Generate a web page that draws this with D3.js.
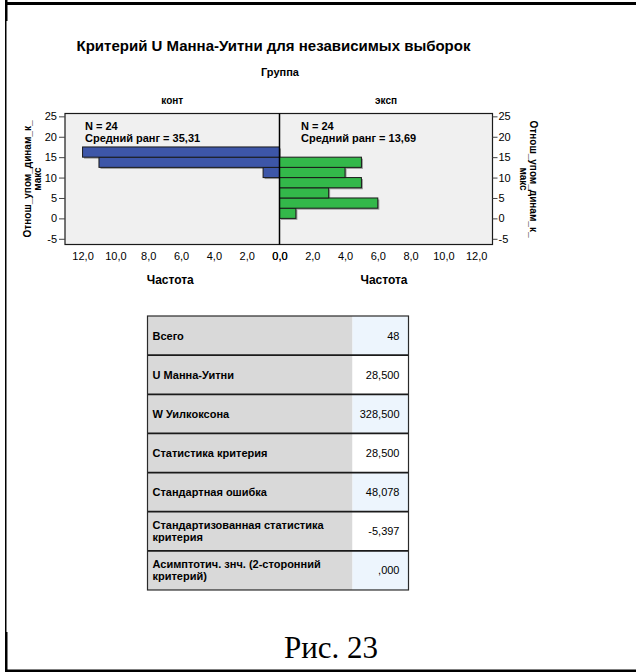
<!DOCTYPE html>
<html>
<head>
<meta charset="utf-8">
<script src="https://cdn.jsdelivr.net/npm/d3@7"></script>
<style>
  html, body { margin: 0; padding: 0; background: #fff; }
  svg { display: block; }
  text { font-family: "Liberation Sans", Arial, sans-serif; fill: #000; }
</style>
</head>
<body>
<svg id="fig" width="636" height="672"></svg>
<script>
// Binned values of the variable (bin lower edges, width 2.5)
const binStarts = [0, 2.5, 5, 7.5, 10, 12.5, 15];
const binWidth = 2.5;
// Frequencies per bin for each group
const groupNames = ["конт", "эксп"];
const freqKont = [0, 0, 0, 0, 1, 11, 12];
const freqExsp = [1, 6, 3, 5, 4, 5, 0];
const groupN = [24, 24];
const meanRanks = ["35,31", "13,69"];

// Axis ticks
const yTicks = [-5, 0, 5, 10, 15, 20, 25];
const xTicks = [0, 2, 4, 6, 8, 10, 12];

// Test summary table
const tableLabels = [
  ["Всего"],
  ["U Манна-Уитни"],
  ["W Уилкоксона"],
  ["Статистика критерия"],
  ["Стандартная ошибка"],
  ["Стандартизованная статистика", "критерия"],
  ["Асимптотич. знч. (2-сторонний", "критерий)"]
];
const tableValues = ["48", "28,500", "328,500", "28,500", "48,078", "-5,397", ",000"];

const svg = d3.select("#fig");

// ---- page frame ----
const frame = svg.append("g").attr("fill", "#000");
frame.append("rect").attr("x", 6).attr("y", 2).attr("width", 630).attr("height", 3);
frame.append("rect").attr("x", 5).attr("y", 0).attr("width", 1.5).attr("height", 672);
frame.append("rect").attr("x", 5).attr("y", 0).attr("width", 2.5).attr("height", 21);
frame.append("rect").attr("x", 5).attr("y", 632).attr("width", 2.5).attr("height", 40);
frame.append("rect").attr("x", 5).attr("y", 669.5).attr("width", 631).attr("height", 2.5);

// ---- titles ----
svg.append("text").attr("x", 273.5).attr("y", 51).attr("text-anchor", "middle")
  .attr("font-size", 15).attr("font-weight", "bold")
  .text("Критерий U Манна-Уитни для независимых выборок");
svg.append("text").attr("x", 280).attr("y", 76).attr("text-anchor", "middle")
  .attr("font-size", 11).attr("font-weight", "bold").text("Группа");

// ---- scales ----
const plotTop = 113.5, plotBottom = 244.5;
const xLeftEdge = 65, xZero = 279.5, xRightEdge = 492.5;
const y = d3.scaleLinear().domain([-6.4, 25.7]).range([plotBottom, plotTop]);
const xL = d3.scaleLinear().domain([0, 13.07]).range([xZero, xLeftEdge]);
const xR = d3.scaleLinear().domain([0, 13.0]).range([xZero, xRightEdge]);

// plot background
svg.append("rect").attr("x", xLeftEdge).attr("y", plotTop)
  .attr("width", xRightEdge - xLeftEdge).attr("height", plotBottom - plotTop)
  .attr("fill", "#f0f0f0");

// ---- bars ----
function drawBars(freqs, xs, color) {
  const data = binStarts.map((b, i) => ({ lo: b, f: freqs[i] })).filter(d => d.f > 0);
  const g = svg.append("g");
  const xPos = d => Math.min(xs(0), xs(d.f));
  const w = d => Math.abs(xs(d.f) - xs(0));
  // soft drop shadow
  g.selectAll("rect.sh").data(data).join("rect").attr("class", "sh")
    .attr("x", d => xPos(d) + 1.5).attr("y", d => y(d.lo + binWidth) + 1.5)
    .attr("width", w).attr("height", d => y(d.lo) - y(d.lo + binWidth))
    .attr("fill", "#9a9a9a");
  g.selectAll("rect.bar").data(data).join("rect").attr("class", "bar")
    .attr("x", xPos).attr("y", d => y(d.lo + binWidth))
    .attr("width", w).attr("height", d => y(d.lo) - y(d.lo + binWidth))
    .attr("fill", color).attr("stroke", "#1a1a1a").attr("stroke-width", 1);
}
drawBars(freqKont, xL, "#3d56a8");
drawBars(freqExsp, xR, "#33b84a");

// plot frame and zero line
svg.append("rect").attr("x", xLeftEdge).attr("y", plotTop)
  .attr("width", xRightEdge - xLeftEdge).attr("height", plotBottom - plotTop)
  .attr("fill", "none").attr("stroke", "#1a1a1a").attr("stroke-width", 1.2);
svg.append("line").attr("x1", xZero).attr("x2", xZero)
  .attr("y1", plotTop).attr("y2", plotBottom)
  .attr("stroke", "#000").attr("stroke-width", 1.5);

// ---- axes ----
const fmt1 = d => d3.format(".1f")(d).replace(".", ",");
const fmtInt = d => String(d);
function styleAxis(g) {
  g.select(".domain").remove();
  g.selectAll(".tick line").attr("stroke", "#444");
  g.selectAll(".tick text").attr("font-size", 11).attr("fill", "#222")
    .attr("font-family", "Liberation Sans, Arial, sans-serif");
}
svg.append("g").attr("transform", `translate(${xLeftEdge},0)`)
  .call(d3.axisLeft(y).tickValues(yTicks).tickSize(6).tickPadding(2).tickFormat(fmtInt))
  .call(styleAxis);
svg.append("g").attr("transform", `translate(${xRightEdge},0)`)
  .call(d3.axisRight(y).tickValues(yTicks).tickSize(5).tickPadding(1).tickFormat(fmtInt))
  .call(styleAxis);
svg.append("g").attr("transform", `translate(0,${plotBottom})`)
  .call(d3.axisBottom(xL).tickValues(xTicks).tickSize(0).tickPadding(8).tickFormat(fmt1))
  .call(styleAxis);
svg.append("g").attr("transform", `translate(0,${plotBottom})`)
  .call(d3.axisBottom(xR).tickValues(xTicks).tickSize(0).tickPadding(8).tickFormat(fmt1))
  .call(styleAxis);

// panel headers and x titles
const panelCenters = [(xLeftEdge + xZero) / 2, (xZero + xRightEdge) / 2];
groupNames.forEach((name, i) => {
  svg.append("text").attr("x", panelCenters[i]).attr("y", 104).attr("text-anchor", "middle")
    .attr("font-size", 10).attr("font-weight", "bold").text(name);
  svg.append("text").attr("x", panelCenters[i] - 2).attr("y", 284).attr("text-anchor", "middle")
    .attr("font-size", 12).attr("font-weight", "bold").text("Частота");
});

// group annotations
const annX = [85, 301];
groupN.forEach((n, i) => {
  const t = svg.append("text").attr("font-size", 11).attr("font-weight", "bold");
  t.append("tspan").attr("x", annX[i]).attr("y", 130).text(`N = ${n}`);
  t.append("tspan").attr("x", annX[i]).attr("y", 142).text(`Средний ранг = ${meanRanks[i]}`);
});

// y titles (two lines, both sides)
const yMid = (plotTop + plotBottom) / 2;
const yTitle = ["Отнош_упом_динам_к_", "макс"];
svg.append("g").attr("transform", `translate(31,${yMid}) rotate(-90)`)
  .selectAll("text").data(yTitle).join("text")
  .attr("x", 0).attr("y", (d, i) => i * 10).attr("text-anchor", "middle")
  .attr("font-size", 10).attr("font-weight", "bold").text(d => d);
svg.append("g").attr("transform", `translate(530,${yMid}) rotate(90)`)
  .selectAll("text").data(yTitle).join("text")
  .attr("x", 0).attr("y", (d, i) => i * 10).attr("text-anchor", "middle")
  .attr("font-size", 10).attr("font-weight", "bold").text(d => d);

// ---- summary table ----
const tLeft = 147.5, tDiv = 352.5, tRight = 408.5, tTop = 316, rowH = 39.14;
const rows = tableLabels.map((l, i) => ({ label: l, value: tableValues[i], i }));
const tg = svg.append("g");
const rg = tg.selectAll("g.row").data(rows).join("g").attr("class", "row")
  .attr("transform", d => `translate(0,${tTop + d.i * rowH})`);
rg.append("rect").attr("x", tLeft).attr("y", 0).attr("width", tDiv - tLeft).attr("height", rowH)
  .attr("fill", "#d9d9d9");
rg.append("rect").attr("x", tDiv).attr("y", 0).attr("width", tRight - tDiv).attr("height", rowH)
  .attr("fill", d => d.i % 2 === 0 ? "#edf5fd" : "#ffffff");
rg.each(function (d) {
  const g = d3.select(this);
  const n = d.label.length;
  d.label.forEach((line, k) => {
    g.append("text").attr("x", tLeft + 5)
      .attr("y", rowH / 2 + 4 + (k - (n - 1) / 2) * 12)
      .attr("font-size", 11).attr("font-weight", "bold").text(line);
  });
  g.append("text").attr("x", tRight - 9).attr("y", rowH / 2 + 4)
    .attr("text-anchor", "end").attr("font-size", 11).attr("fill", "#111").text(d.value);
});
// row separators
tg.selectAll("line.sep").data(d3.range(1, rows.length)).join("line").attr("class", "sep")
  .attr("x1", tLeft).attr("x2", tRight)
  .attr("y1", d => tTop + d * rowH).attr("y2", d => tTop + d * rowH)
  .attr("stroke", "#1a1a1a").attr("stroke-width", 1.8);
tg.append("rect").attr("x", tLeft).attr("y", tTop).attr("width", tRight - tLeft)
  .attr("height", rows.length * rowH).attr("fill", "none")
  .attr("stroke", "#2a2a2a").attr("stroke-width", 1.2);

// caption
svg.append("text").attr("x", 331).attr("y", 658).attr("text-anchor", "middle")
  .style("font-family", "'Liberation Serif', 'Times New Roman', serif")
  .attr("font-size", 31).text("Рис. 23");
</script>
</body>
</html>
